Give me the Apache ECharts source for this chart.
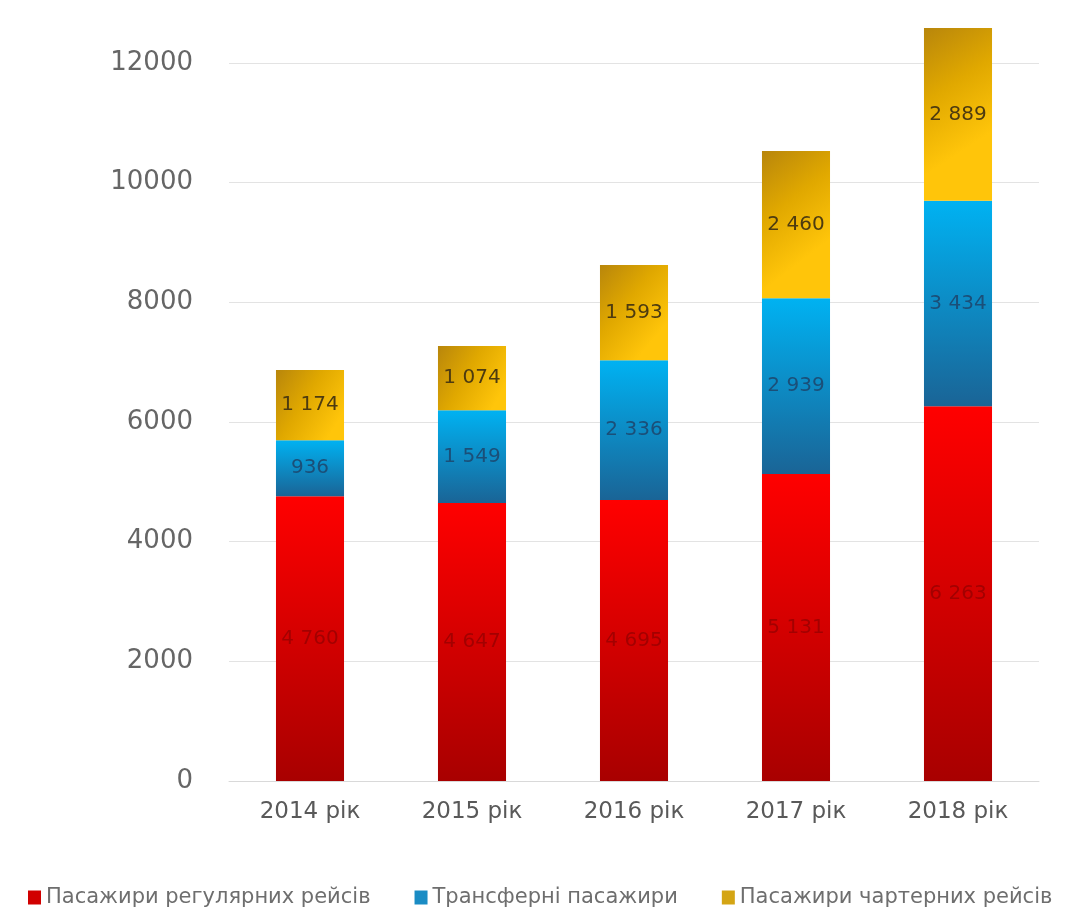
<!DOCTYPE html>
<html>
<head>
<meta charset="utf-8">
<script src="https://cdn.jsdelivr.net/npm/echarts@6/dist/echarts.min.js"></script>
<style>
  html, body { margin: 0; padding: 0; background: #fff; }
  #chart { width: 1071px; height: 921px; }
</style>
</head>
<body>
<div id="chart"></div>
<script>
// Chart data
const years = ['2014 рік', '2015 рік', '2016 рік', '2017 рік', '2018 рік'];
const regular = [4760, 4647, 4695, 5131, 6263];
const transfer = [936, 1549, 2336, 2939, 3434];
const charter = [1174, 1074, 1593, 2460, 2889];
const yTicks = [0, 2000, 4000, 6000, 8000, 10000, 12000];

const seriesNames = ['Пасажири регулярних рейсів', 'Трансферні пасажири', 'Пасажири чартерних рейсів'];
const legendColors = ['#d10000', '#1a8cc4', '#d4a514'];

// Formats numbers with a space as thousands separator
function fmt(v) {
    return String(v).replace(/\B(?=(\d{3})+(?!\d))/g, ' ');
}

// Builds a vertical gradient
function vGrad(top, bottom) {
    return new echarts.graphic.LinearGradient(0, 0, 0, 1, [
        { offset: 0, color: top },
        { offset: 1, color: bottom }
    ]);
}

function buildSeries(name, data, color, labelColor) {
    return {
        name: name,
        type: 'bar',
        stack: 'total',
        clip: false,
        barWidth: '42%',
        data: data,
        itemStyle: { color: color },
        label: {
            show: true,
            position: 'inside',
            formatter: p => fmt(p.value),
            fontSize: 20,
            fontFamily: 'DejaVu Sans',
            color: labelColor
        },
        emphasis: { disabled: true }
    };
}

const yellowGrad = new echarts.graphic.LinearGradient(0, 0, 1, 0.6, [
    { offset: 0, color: '#b8860b' },
    { offset: 0.5, color: '#e0a800' },
    { offset: 1, color: '#ffc50a' }
]);

const chart = echarts.init(document.getElementById('chart'));

chart.setOption({
    animation: false,
    grid: { left: 229, right: 32, top: 63, bottom: 140 },
    legend: {
        data: seriesNames.map((n, i) => ({ name: n, itemStyle: { color: legendColors[i] } })),
        bottom: 13,
        left: 28,
        width: 1043,
        padding: 0,
        icon: 'rect',
        itemWidth: 13,
        itemHeight: 14,
        itemGap: 44,
        textStyle: { fontSize: 21, color: '#6e6e6e', fontFamily: 'DejaVu Sans' }
    },
    xAxis: {
        type: 'category',
        data: years,
        axisLine: { lineStyle: { color: '#d9d9d9' } },
        axisTick: { show: false },
        axisLabel: { fontSize: 23, color: '#595959', margin: 20, fontFamily: 'DejaVu Sans' }
    },
    yAxis: {
        type: 'value',
        min: yTicks[0],
        max: yTicks[yTicks.length - 1],
        interval: 2000,
        axisLine: { show: false },
        axisTick: { show: false },
        splitLine: { lineStyle: { color: '#e3e3e3' } },
        axisLabel: {
            fontSize: 26,
            color: '#666',
            margin: 36,
            fontFamily: 'DejaVu Sans',
            formatter: v => String(v)
        }
    },
    series: [
        buildSeries(seriesNames[0], regular, vGrad('#ff0000', '#a80000'), '#a30000'),
        buildSeries(seriesNames[1], transfer, vGrad('#00b2f2', '#1a6496'), '#1b4f78'),
        buildSeries(seriesNames[2], charter, yellowGrad, '#4d3b10')
    ]
});

window.addEventListener('resize', () => chart.resize());
</script>
</body>
</html>
